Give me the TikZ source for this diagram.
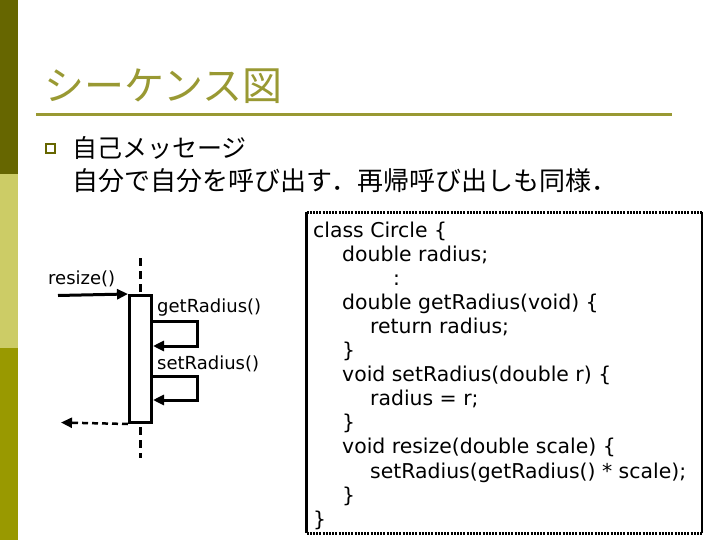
\documentclass[tikz,border=0pt]{standalone}
\usepackage{fontspec}
\setmainfont{DejaVu Sans}
\newfontfamily\jpfont{Noto Sans CJK JP}
\usetikzlibrary{arrows.meta}
\definecolor{bardark}{RGB}{102,102,0}
\definecolor{barlight}{RGB}{204,204,102}
\definecolor{barmid}{RGB}{153,153,0}
\definecolor{titlecol}{RGB}{153,153,51}
\tikzset{
  jptext/.style={anchor=west, inner sep=0, font=\jpfont\fontsize{25}{25}\selectfont},
  codeline/.style={anchor=base west, inner sep=0, font=\fontsize{20.4}{20.4}\selectfont},
  msglabel/.style={anchor=west, inner sep=0, font=\fontsize{18}{18}\selectfont},
  msgline/.style={line width=3pt, -{Triangle[length=11pt,width=10pt]}},
  retline/.style={line width=2.5pt, dash pattern=on 6pt off 4pt, -{Triangle[length=11pt,width=10pt]}},
  lifeline/.style={line width=3pt, dash pattern=on 8pt off 5pt},
  actbox/.style={draw, line width=3pt, fill=white, minimum width=22pt, minimum height=127pt, inner sep=0},
  sideborder/.style={line width=2.5pt},
  dotborder/.style={line width=2.5pt, dash pattern=on 2pt off 1.2pt}
}
\begin{document}
\begin{tikzpicture}[x=1pt,y=-1pt]
\useasboundingbox (0,0) rectangle (720,540);
% left bar
\fill[bardark] (0,0) rectangle (18,174);
\fill[barlight] (0,174) rectangle (18,348);
\fill[barmid] (0,348) rectangle (18,540);
% title
\node[anchor=west, inner sep=0, text=titlecol, font=\jpfont\fontsize{40}{40}\selectfont] (title) at (44,86) {シーケンス図};
\draw[line width=3pt, titlecol] (36,114.5) -- (672,114.5);
% bullet
\node[draw=bardark, line width=2pt, minimum size=9pt, inner sep=0] (bullet) at (50,149) {};
\node[jptext] (l1) at (72,148) {自己メッセージ};
\node[jptext, font=\jpfont\fontsize{26}{26}\selectfont] (l2) at (72,181) {自分で自分を呼び出す．再帰呼び出しも同様．};
% sequence diagram
\coordinate (lt) at (140.5,258);
\coordinate (lb) at (140.5,458);
\draw[lifeline] (lt) -- (lb);
\node[actbox] (act) at (140.5,359) {};
\node[msglabel] (lresize) at (48,279) {resize()};
\node[msglabel] (lget) at (157,308) {getRadius()};
\node[msglabel] (lset) at (157,364) {setRadius()};
\coordinate (rs) at (58,295.5);
\draw[msgline] (rs) -- (act.north west);
\coordinate (g1) at (197,321);
\coordinate (g2) at (197,346);
\draw[msgline] (act.east |- g1) -- (g1) -- (g2) -- (act.east |- g2);
\coordinate (s1) at (197,376);
\coordinate (s2) at (197,400);
\draw[msgline] (act.east |- s1) -- (s1) -- (s2) -- (act.east |- s2);
\coordinate (ret) at (61,422.5);
\draw[retline] (act.south west) -- (ret);
% code box
\node[anchor=north west, minimum width=395pt, minimum height=320.5pt, inner sep=0] (codebox) at (306.5,212.5) {};
\draw[sideborder] (codebox.north west) -- (codebox.south west);
\draw[sideborder] (codebox.north east) -- (codebox.south east);
\draw[dotborder] (codebox.north west) -- (codebox.north east);
\draw[dotborder] (codebox.south west) -- (codebox.south east);
\node[codeline] (c0) at (313,237) {class Circle \{};
\node[codeline] (c1) at (342,261.1) {double radius;};
\node[codeline] (c2) at (393,285.2) {:};
\node[codeline] (c3) at (342,309.3) {double getRadius(void) \{};
\node[codeline] (c4) at (370,333.4) {return radius;};
\node[codeline] (c5) at (342,357.5) {\}};
\node[codeline] (c6) at (342,381.6) {void setRadius(double r) \{};
\node[codeline] (c7) at (370,405.7) {radius = r;};
\node[codeline] (c8) at (342,429.8) {\}};
\node[codeline] (c9) at (342,453.9) {void resize(double scale) \{};
\node[codeline] (c10) at (370,478) {setRadius(getRadius() * scale);};
\node[codeline] (c11) at (342,502.1) {\}};
\node[codeline] (c12) at (313,526.2) {\}};
\end{tikzpicture}
\end{document}
